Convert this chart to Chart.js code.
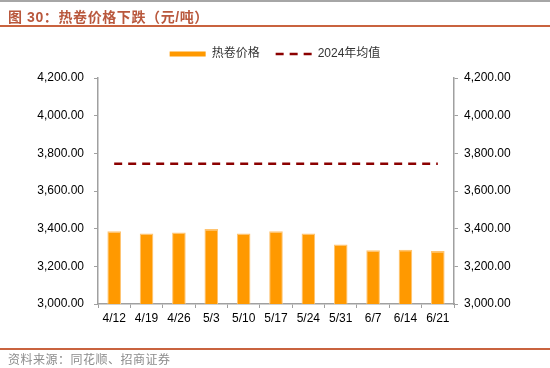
<!DOCTYPE html>
<html>
<head>
<meta charset="utf-8">
<script src="https://cdn.jsdelivr.net/npm/chart.js@4/dist/chart.umd.min.js"></script>
<style>
  html, body { margin: 0; padding: 0; background: #fff; }
  #wrap { position: relative; width: 550px; height: 368px; overflow: hidden; font-family: "Liberation Sans", Arial, "Noto Sans CJK SC", sans-serif; }
  #topline { position: absolute; left: 0; top: 0; width: 550px; height: 2px; background: #a6a6a6; }
  #title { position: absolute; left: 8px; top: 6px; font-size: 14px; letter-spacing: 0.6px; font-weight: bold; color: #B9583D; font-family: "Liberation Sans", "Noto Sans CJK SC", sans-serif; white-space: nowrap; }
  #titleline { position: absolute; left: 0; top: 25px; width: 550px; height: 1.5px; background: #C9633F; }
  #footline { position: absolute; left: 0; top: 348px; width: 550px; height: 1.5px; background: #C9633F; }
  #source { position: absolute; left: 8px; top: 350px; font-size: 12px; letter-spacing: 0.5px; color: #8c8c8c; font-family: "Noto Sans CJK SC", sans-serif; white-space: nowrap; }
  #cv { position: absolute; left: 0; top: 0; }
</style>
</head>
<body>
<div id="wrap">
  <canvas id="cv" width="550" height="368"></canvas>
  <div id="topline"></div>
  <div id="title">图 30：热卷价格下跌（元/吨）</div>
  <div id="titleline"></div>
  <div id="footline"></div>
  <div id="source">资料来源：同花顺、招商证券</div>
</div>
<script>
const categories = ["4/12", "4/19", "4/26", "5/3", "5/10", "5/17", "5/24", "5/31", "6/7", "6/14", "6/21"];
const hotRollPrice = [3386, 3374, 3379, 3398, 3374, 3386, 3374, 3316, 3286, 3288, 3282];
const avg2024 = [3745, 3745, 3745, 3745, 3745, 3745, 3745, 3745, 3745, 3745, 3745];
const seriesNames = ["热卷价格", "2024年均值"];
const yMin = 3000, yMax = 4200, yStep = 200;

const fmt = v => Number(v).toLocaleString('en-US', {minimumFractionDigits: 2, maximumFractionDigits: 2});
const tickFont = { family: "'Liberation Sans', Arial, sans-serif", size: 12 };
const axisColor = '#a0a0a0';
const barColor = '#FF9900';
const avgColor = '#8B0000';
const avgDash = [8, 6];

const legendSpacer = {
  id: 'legendSpacer',
  beforeInit(chart) {
    const lg = chart.legend;
    if (!lg) return;
    const orig = lg.fit;
    lg.fit = function () { orig.call(this); this.height += 8; };
  }
};

new Chart(document.getElementById('cv'), {
  type: 'bar',
  plugins: [legendSpacer],
  data: {
    labels: categories,
    datasets: [
      {
        type: 'bar',
        label: seriesNames[0],
        data: hotRollPrice,
        backgroundColor: barColor,
        borderColor: '#FFC470',
        borderWidth: {top: 1.5, left: 1, right: 1, bottom: 0},
        borderSkipped: 'bottom',
        categoryPercentage: 1.0,
        barPercentage: 0.42,
        yAxisID: 'y',
        order: 1
      },
      {
        type: 'line',
        label: seriesNames[1],
        data: avg2024,
        borderColor: avgColor,
        backgroundColor: avgColor,
        borderWidth: 2.5,
        borderDash: avgDash,
        pointRadius: 0,
        fill: false,
        yAxisID: 'y',
        order: 0
      }
    ]
  },
  options: {
    responsive: false,
    animation: false,
    devicePixelRatio: 1,
    layout: { padding: { top: 32, bottom: 34, left: 0, right: 0 } },
    plugins: {
      legend: {
        display: true,
        position: 'top',
        labels: {
          usePointStyle: true,
          pointStyleWidth: 36,
          boxHeight: 5,
          padding: 16,
          color: '#333',
          font: { family: "'Liberation Sans', 'Noto Sans CJK SC', sans-serif", size: 12 },
          generateLabels: chart => [
            { text: seriesNames[0], fillStyle: barColor, strokeStyle: barColor, lineWidth: 0, pointStyle: 'rect', datasetIndex: 0, hidden: false, fontColor: '#333' },
            { text: seriesNames[1], fillStyle: avgColor, strokeStyle: avgColor, lineWidth: 2.5, lineDash: avgDash, pointStyle: 'line', datasetIndex: 1, hidden: false, fontColor: '#333' }
          ]
        }
      },
      tooltip: { enabled: false }
    },
    scales: {
      x: {
        offset: true,
        grid: { display: true, drawOnChartArea: false, drawTicks: true, tickLength: 4, color: axisColor, offset: true },
        border: { display: true, color: axisColor, width: 1.5 },
        ticks: { color: '#000', font: tickFont, padding: 3, maxRotation: 0, autoSkip: false },
        afterFit: s => { s.height = 30; }
      },
      y: {
        position: 'left',
        min: yMin, max: yMax,
        grid: { display: true, drawOnChartArea: false, drawTicks: true, tickLength: 4, color: axisColor },
        border: { display: true, color: axisColor, width: 1.5 },
        ticks: { stepSize: yStep, color: '#000', font: tickFont, padding: 10, callback: v => fmt(v) },
        afterFit: s => { s.width = 98; }
      },
      y2: {
        position: 'right',
        min: yMin, max: yMax,
        grid: { display: true, drawOnChartArea: false, drawTicks: true, tickLength: 4, color: axisColor },
        border: { display: true, color: axisColor, width: 1.5 },
        ticks: { stepSize: yStep, color: '#000', font: tickFont, padding: 6, callback: v => fmt(v) },
        afterFit: s => { s.width = 96; }
      }
    }
  }
});
</script>
</body>
</html>
